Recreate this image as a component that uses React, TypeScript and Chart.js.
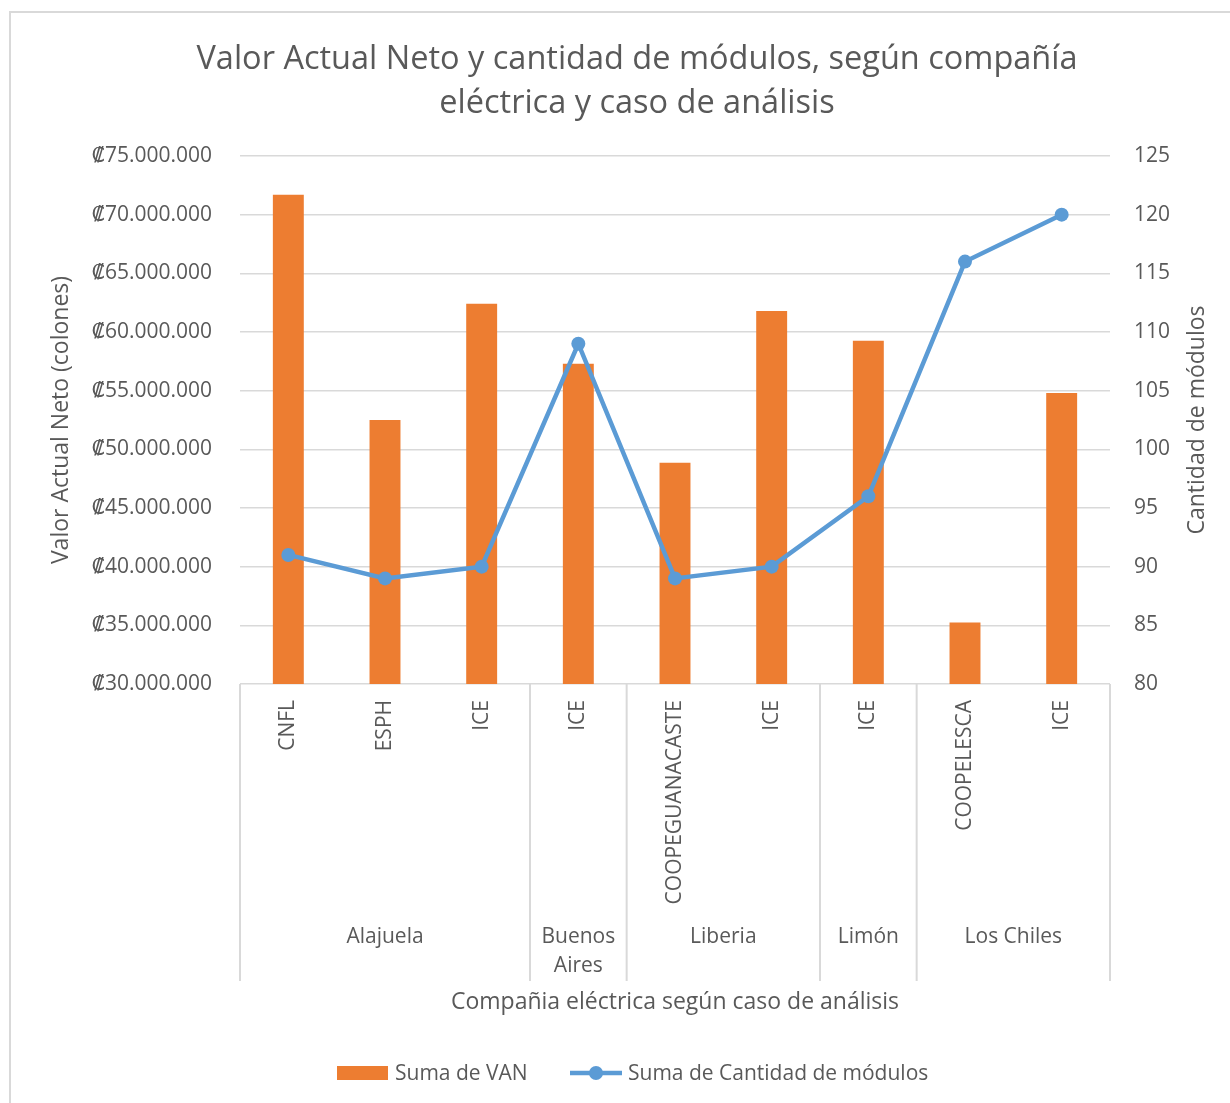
import { useEffect, useRef } from "react";
import { Chart, registerables } from "chart.js";

Chart.register(...registerables);

const titleLines = [
  "Valor Actual Neto y cantidad de módulos, según compañía",
  "eléctrica y caso de análisis",
];
const categories = [
  "CNFL",
  "ESPH",
  "ICE",
  "ICE",
  "COOPEGUANACASTE",
  "ICE",
  "ICE",
  "COOPELESCA",
  "ICE",
];
const groupLabels = [["Alajuela"], ["Buenos", "Aires"], ["Liberia"], ["Limón"], ["Los Chiles"]];
const groupSizes = [3, 1, 2, 1, 2];
const vanValues = [
  71700000, 52500000, 62400000, 57300000, 48850000, 61800000, 59250000, 35250000, 54800000,
];
const moduleCounts = [91, 89, 90, 109, 89, 90, 96, 116, 120];
const leftAxisRange = [30000000, 75000000, 5000000];
const rightAxisRange = [80, 125, 5];
const seriesNames = ["Suma de VAN", "Suma de Cantidad de módulos"];
const leftAxisTitle = "Valor Actual Neto (colones)";
const rightAxisTitle = "Cantidad de módulos";
const xAxisTitle = "Compañia eléctrica según caso de análisis";

const FONT = "'Open Sans', 'DejaVu Sans', sans-serif";
const TEXT = "#595959";
const GRID = "#d9d9d9";
const ORANGE = "#ED7D31";
const BLUE = "#5B9BD5";

const formatColones = (v: number) =>
  "₡" + String(Math.round(v)).replace(/\B(?=(\d{3})+(?!\d))/g, ".");

const decorPlugin = {
  id: "decor",
  afterDraw(chart: any) {
    const ctx = chart.ctx as CanvasRenderingContext2D;
    const xs = chart.scales.x;
    const area = chart.chartArea;
    ctx.save();

    // chart border
    ctx.strokeStyle = GRID;
    ctx.lineWidth = 2;
    ctx.strokeRect(10, 12, 1400, 1400);

    // title
    ctx.fillStyle = TEXT;
    ctx.font = `32.5px ${FONT}`;
    ctx.textAlign = "center";
    ctx.textBaseline = "middle";
    ctx.fillText(titleLines[0], 637, 60);
    ctx.fillText(titleLines[1], 637, 104);

    // right axis title (reads bottom to top)
    ctx.save();
    ctx.font = `23px ${FONT}`;
    ctx.translate(1197, (area.top + area.bottom) / 2);
    ctx.rotate(-Math.PI / 2);
    ctx.fillText(rightAxisTitle, 0, 0);
    ctx.restore();

    // rotated category labels
    ctx.font = `21px ${FONT}`;
    categories.forEach((c, i) => {
      const x = xs.getPixelForValue(i);
      ctx.save();
      ctx.translate(x, 700);
      ctx.rotate(-Math.PI / 2);
      ctx.textAlign = "right";
      ctx.textBaseline = "middle";
      ctx.fillText(c, 0, 0);
      ctx.restore();
    });

    // group separators and labels
    const catW = (area.right - area.left) / categories.length;
    ctx.strokeStyle = GRID;
    ctx.lineWidth = 2;
    let idx = 0;
    const bounds: number[] = [xs.getPixelForValue(0) - catW / 2];
    groupSizes.forEach((n) => {
      idx += n;
      bounds.push(xs.getPixelForValue(idx - 1) + catW / 2);
    });
    bounds.forEach((bx) => {
      ctx.beginPath();
      ctx.moveTo(bx, area.bottom);
      ctx.lineTo(bx, 981);
      ctx.stroke();
    });
    ctx.textAlign = "center";
    ctx.textBaseline = "middle";
    groupLabels.forEach((lines, g) => {
      const cx = (bounds[g] + bounds[g + 1]) / 2;
      lines.forEach((t, k) => ctx.fillText(t, cx, 937 + k * 29));
    });

    // legend
    ctx.fillStyle = ORANGE;
    ctx.fillRect(337, 1066, 51, 14);
    ctx.fillStyle = TEXT;
    ctx.textAlign = "left";
    ctx.font = `21px ${FONT}`;
    ctx.fillText(seriesNames[0], 395, 1074);
    ctx.strokeStyle = BLUE;
    ctx.lineWidth = 4.5;
    ctx.beginPath();
    ctx.moveTo(570, 1073);
    ctx.lineTo(622, 1073);
    ctx.stroke();
    ctx.fillStyle = BLUE;
    ctx.beginPath();
    ctx.arc(596, 1073, 7, 0, Math.PI * 2);
    ctx.fill();
    ctx.fillStyle = TEXT;
    ctx.fillText(seriesNames[1], 628, 1074);

    ctx.restore();
  },
};

export default function App() {
  const ref = useRef<HTMLCanvasElement | null>(null);

  useEffect(() => {
    if (!ref.current) return;
    const chart = new Chart(ref.current, {
      type: "bar",
      data: {
        labels: categories,
        datasets: [
          {
            type: "line",
            label: seriesNames[1],
            data: moduleCounts,
            yAxisID: "y1",
            borderColor: BLUE,
            backgroundColor: BLUE,
            borderWidth: 4.5,
            pointRadius: 7,
            pointBackgroundColor: BLUE,
            pointBorderWidth: 0,
            tension: 0,
            order: 0,
          } as any,
          {
            type: "bar",
            label: seriesNames[0],
            data: vanValues,
            yAxisID: "y",
            backgroundColor: ORANGE,
            barPercentage: 0.32,
            categoryPercentage: 1,
            order: 1,
          },
        ],
      },
      options: {
        responsive: false,
        animation: false,
        layout: { padding: { top: 156, left: 0, right: 0, bottom: 0 } },
        plugins: {
          legend: { display: false },
          title: { display: false },
          tooltip: { enabled: false },
        },
        scales: {
          x: {
            type: "category",
            ticks: { display: false },
            grid: { display: false },
            border: { display: false },
            title: {
              display: true,
              text: xAxisTitle,
              color: TEXT,
              font: { family: FONT, size: 23 },
              padding: { top: 0, bottom: 87 },
            },
            afterFit: (s: any) => {
              s.height = 419;
            },
          },
          y: {
            position: "left",
            min: leftAxisRange[0],
            max: leftAxisRange[1],
            ticks: {
              stepSize: leftAxisRange[2],
              callback: (v: any) => formatColones(Number(v)),
              color: TEXT,
              font: { family: FONT, size: 21 },
              padding: 28,
            },
            grid: { color: GRID, lineWidth: 1.5, drawTicks: false },
            border: { display: false },
            title: {
              display: true,
              text: leftAxisTitle,
              color: TEXT,
              font: { family: FONT, size: 23 },
              padding: { top: 48, bottom: 0 },
            },
            afterFit: (s: any) => {
              s.width = 240;
            },
          },
          y1: {
            position: "right",
            min: rightAxisRange[0],
            max: rightAxisRange[1],
            ticks: {
              stepSize: rightAxisRange[2],
              color: TEXT,
              font: { family: FONT, size: 21 },
              padding: 24,
            },
            grid: { display: false, drawTicks: false },
            border: { display: false },
            title: { display: false },
            afterFit: (s: any) => {
              s.width = 120;
            },
          },
        },
      } as any,
      plugins: [decorPlugin],
    });
    return () => chart.destroy();
  }, []);

  return (
    <div style={{ position: "absolute", left: 0, top: 0, width: 1230, height: 1103, background: "#fff" }}>
      <canvas ref={ref} width={1230} height={1103} style={{ display: "block" }} />
    </div>
  );
}
